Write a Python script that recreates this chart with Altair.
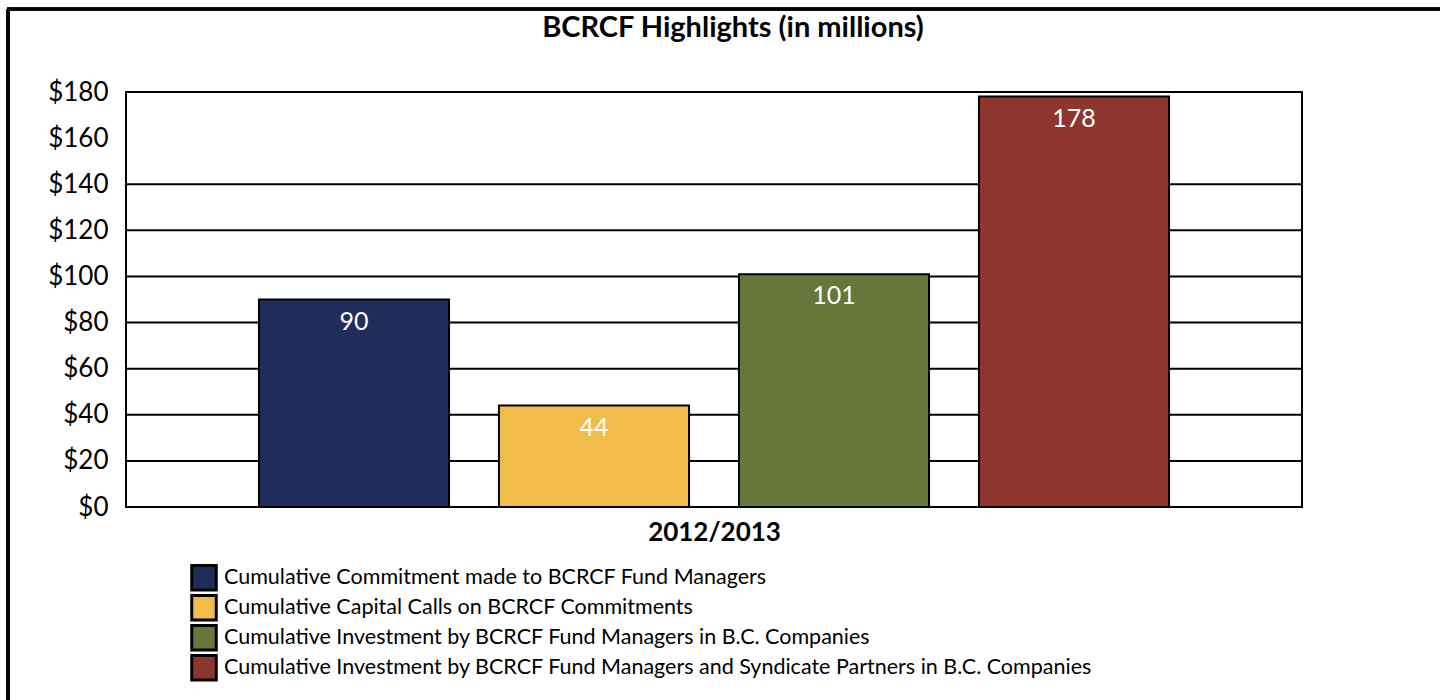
import altair as alt
import pandas as pd

series = [
    "Cumulative Commitment made to BCRCF Fund Managers",
    "Cumulative Capital Calls on BCRCF Commitments",
    "Cumulative Investment by BCRCF Fund Managers in B.C. Companies",
    "Cumulative Investment by BCRCF Fund Managers and Syndicate Partners in B.C. Companies",
]
values = [90, 44, 101, 178]
colors = ["#1F2D5B", "#F2BC4B", "#667739", "#8E362E"]
y_ticks = [0, 20, 40, 60, 80, 100, 120, 140, 160, 180]
grid_values = [20, 40, 60, 80, 100, 120, 140]
period = "2012/2013"
title_text = "BCRCF Highlights (in millions)"

FONT = "Lato"

df = pd.DataFrame({"series": series, "value": values})
grid_df = pd.DataFrame({"g": grid_values})
title_df = pd.DataFrame({"t": [title_text]})

yscale = alt.Scale(domain=[0, 180], nice=False)

grid = alt.Chart(grid_df).mark_rule(color="black", strokeWidth=2).encode(
    y=alt.Y("g:Q", scale=yscale)
)

bars = alt.Chart(df).mark_bar(stroke="black", strokeWidth=2).encode(
    x=alt.X(
        "series:N",
        sort=series,
        scale=alt.Scale(paddingInner=0.208, paddingOuter=0.554),
        axis=alt.Axis(labels=False, ticks=False, domain=False, title=period,
                      titleFont=FONT, titleFontSize=26, titleFontWeight="bold",
                      titleColor="black", titlePadding=12),
    ),
    y=alt.Y(
        "value:Q",
        scale=yscale,
        axis=alt.Axis(values=y_ticks, labelExpr="'$' + datum.value", grid=False,
                      ticks=False, domain=False, labelFont=FONT, labelFontSize=26,
                      labelColor="black", labelPadding=18, title=None),
    ),
    color=alt.Color(
        "series:N",
        sort=series,
        scale=alt.Scale(domain=series, range=colors),
        legend=alt.Legend(
            title=None, orient="none", legendX=64, legendY=471,
            symbolType="square", symbolSize=600, symbolStrokeColor="black",
            symbolStrokeWidth=3, symbolOpacity=1,
            labelFont=FONT, labelFontSize=21.5, labelColor="black",
            labelLimit=1200, rowPadding=0, clipHeight=29.5, labelOffset=6,
        ),
    ),
)

labels = alt.Chart(df).mark_text(
    color="white", font=FONT, fontSize=25, baseline="top", dy=10
).encode(
    x=alt.X("series:N", sort=series),
    y=alt.Y("value:Q", scale=yscale),
    text=alt.Text("value:Q"),
)

title = alt.Chart(title_df).mark_text(
    font=FONT, fontSize=29, fontWeight="bold", color="black", baseline="middle"
).encode(x=alt.value(607), y=alt.value(-64), text="t:N")

frame_left = alt.Chart(df).mark_rule(color="black", strokeWidth=3).encode(
    x=alt.value(-118), y=alt.value(-83), y2=alt.value(620)
)
frame_top = alt.Chart(df).mark_rule(color="black", strokeWidth=3).encode(
    x=alt.value(-119), x2=alt.value(1330), y=alt.value(-83)
)

chart = alt.layer(grid, bars, labels, title, frame_left, frame_top).properties(
    width=1176,
    height=415,
    autosize=alt.AutoSizeParams(type="none"),
    padding={"left": 126, "top": 92, "right": 138, "bottom": 193},
    background="white",
).configure_view(
    stroke="black", strokeWidth=2
)

chart.save("out.html", embed_options={"renderer": "svg", "actions": False})
